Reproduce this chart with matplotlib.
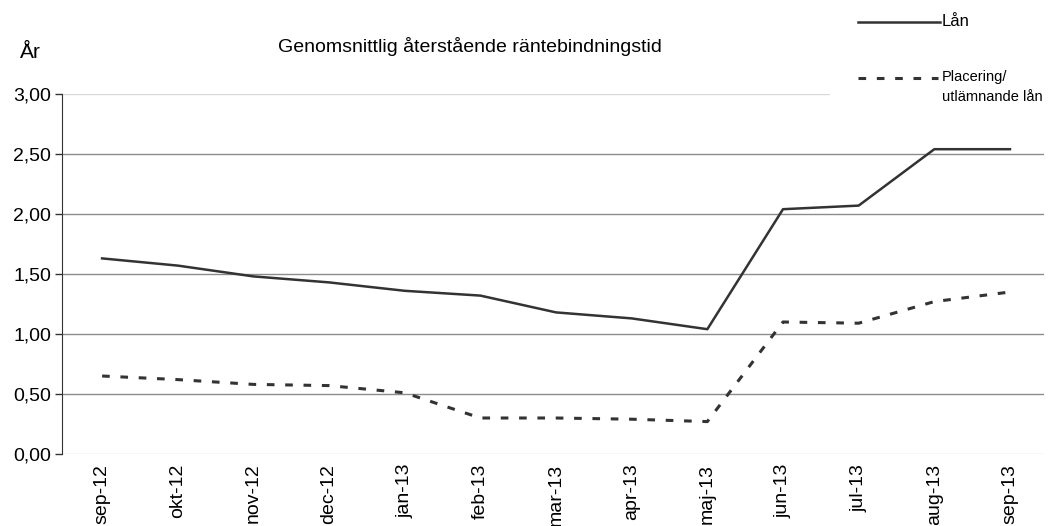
import matplotlib
matplotlib.use("Agg")
from matplotlib import pyplot as plt
from matplotlib.lines import Line2D

manader = ["sep-12", "okt-12", "nov-12", "dec-12", "jan-13", "feb-13", "mar-13",
           "apr-13", "maj-13", "jun-13", "jul-13", "aug-13", "sep-13"]
lan = [1.63, 1.57, 1.48, 1.43, 1.36, 1.32, 1.18, 1.13, 1.04, 2.04, 2.07, 2.54, 2.54]
placering = [0.65, 0.62, 0.58, 0.57, 0.51, 0.30, 0.30, 0.29, 0.27, 1.10, 1.09, 1.27, 1.35]
yticks = [0.0, 0.5, 1.0, 1.5, 2.0, 2.5, 3.0]

plt.rcParams['font.family'] = ['Liberation Sans Narrow', 'Liberation Sans', 'DejaVu Sans']
plt.rcParams['font.size'] = 12

fig = plt.figure(figsize=(10.52, 5.26), dpi=100)
ax = fig.add_axes([62/1052, 72/526, (1044-62)/1052, 360/526])

x = range(len(manader))
ax.plot(x, lan, color="#333333", lw=1.8)
ax.plot(x, placering, color="#333333", lw=2.2, dashes=(2.5, 3.5))

ax.set_ylim(0, 3)
ax.set_xlim(-0.53, 12.45)
ax.set_yticks(yticks)
ax.yaxis.set_major_formatter(matplotlib.ticker.FuncFormatter(lambda v, p: ("%.2f" % v).replace(".", ",")))
for v in yticks:
    c = "#d9d9d9" if v in (0.0, 3.0) else "#8c8c8c"
    ax.axhline(v, color=c, lw=1, zorder=0)

ax.set_xticks(list(x))
ax.set_xticklabels(manader, rotation=90)
ax.tick_params(axis="x", length=0, pad=7, labelsize=14)
ax.tick_params(axis="y", length=5, width=1, color="#333333", pad=3, labelsize=14)
for s in ["top", "right", "bottom"]:
    ax.spines[s].set_visible(False)
ax.spines["left"].set_color("#333333")

fig.text(470/1052, 1 - 47/526, "Genomsnittlig återstående räntebindningstid",
         ha="center", va="center", fontsize=14)
fig.text(30/1052, 1 - 52/526, "År", ha="center", va="center", fontsize=15)

# legend drawn in figure coords, white box over top grid line
fig.patches.append(matplotlib.patches.Rectangle((830/1052, 1 - 110/526), 222/1052, 110/526,
                                                transform=fig.transFigure, color="white", zorder=5))
fig.lines.append(Line2D([858/1052, 940/1052], [1 - 22/526, 1 - 22/526], transform=fig.transFigure,
                        color="#333333", lw=1.8, zorder=6))
fig.lines.append(Line2D([858/1052, 938/1052], [1 - 78/526, 1 - 78/526], transform=fig.transFigure,
                        color="#333333", lw=2.2, dashes=(2.5, 3.5), zorder=6))
fig.text(942/1052, 1 - 22/526, "Lån", va="center", fontsize=12, zorder=7)
fig.text(942/1052, 1 - 87/526, "Placering/\nutlämnande lån", va="center", fontsize=10.5,
         linespacing=1.5, zorder=7)

fig.savefig("out.png", dpi=100)
